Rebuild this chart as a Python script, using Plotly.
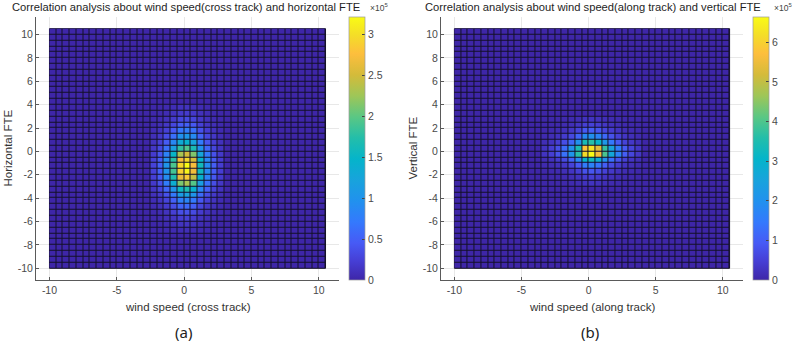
import numpy as np
import plotly.graph_objects as go

# ---- histogram bins shared by both panels (left edges -10 ... 10, width 0.5) ----
BIN_WIDTH = 0.5
BIN_EDGES = np.arange(-10, 10.5 + 1e-9, BIN_WIDTH)
N_BINS = len(BIN_EDGES) - 1

X_TICKS = [-10, -5, 0, 5, 10]
Y_TICKS = [-10, -8, -6, -4, -2, 0, 2, 4, 6, 8, 10]

# ---- (a) cross-track wind speed vs horizontal FTE, counts in units of 1e5 ----
# non-empty region; all other bins are empty
H_COLS = [-2.5, -2.0, -1.5, -1.0, -0.5, 0.0, 0.5, 1.0, 1.5, 2.0, 2.5]
H_ROWS = [3.5, 3.0, 2.5, 2.0, 1.5, 1.0, 0.5, 0.0, -0.5, -1.0, -1.5,
          -2.0, -2.5, -3.0, -3.5, -4.0, -4.5, -5.0, -5.5, -6.0, -6.5, -7.0]
H_COUNTS = [
    [0.01, 0.02, 0.04, 0.07, 0.11, 0.12, 0.10, 0.06, 0.03, 0.02, 0.01],
    [0.02, 0.03, 0.06, 0.12, 0.18, 0.20, 0.17, 0.10, 0.06, 0.03, 0.01],
    [0.03, 0.05, 0.10, 0.19, 0.29, 0.32, 0.27, 0.16, 0.09, 0.05, 0.02],
    [0.04, 0.08, 0.16, 0.30, 0.46, 0.50, 0.43, 0.25, 0.14, 0.08, 0.04],
    [0.06, 0.12, 0.24, 0.45, 0.69, 0.75, 0.64, 0.38, 0.21, 0.11, 0.05],
    [0.08, 0.17, 0.34, 0.63, 0.97, 1.05, 0.89, 0.53, 0.29, 0.16, 0.07],
    [0.12, 0.23, 0.46, 0.87, 1.33, 1.45, 1.23, 0.73, 0.41, 0.22, 0.10],
    [0.16, 0.31, 0.62, 1.17, 1.79, 1.95, 1.66, 0.98, 0.55, 0.29, 0.14],
    [0.20, 0.40, 0.80, 1.50, 2.30, 2.50, 2.13, 1.25, 0.70, 0.38, 0.18],
    [0.24, 0.47, 0.94, 1.77, 2.71, 2.95, 2.51, 1.48, 0.83, 0.44, 0.21],
    [0.26, 0.51, 1.02, 1.92, 2.94, 3.21, 2.72, 1.60, 0.90, 0.48, 0.22],
    [0.25, 0.50, 1.01, 1.89, 2.90, 3.15, 2.68, 1.58, 0.88, 0.47, 0.22],
    [0.23, 0.46, 0.91, 1.71, 2.62, 2.85, 2.42, 1.43, 0.80, 0.43, 0.20],
    [0.18, 0.37, 0.74, 1.38, 2.12, 2.30, 1.96, 1.15, 0.64, 0.35, 0.16],
    [0.14, 0.27, 0.54, 1.02, 1.56, 1.70, 1.45, 0.85, 0.48, 0.26, 0.12],
    [0.10, 0.19, 0.38, 0.72, 1.10, 1.20, 1.02, 0.60, 0.34, 0.18, 0.08],
    [0.07, 0.14, 0.27, 0.51, 0.78, 0.85, 0.72, 0.43, 0.24, 0.13, 0.06],
    [0.05, 0.09, 0.19, 0.35, 0.53, 0.58, 0.49, 0.29, 0.16, 0.09, 0.04],
    [0.03, 0.06, 0.12, 0.23, 0.35, 0.38, 0.32, 0.19, 0.11, 0.06, 0.03],
    [0.02, 0.04, 0.08, 0.14, 0.22, 0.24, 0.20, 0.12, 0.07, 0.04, 0.02],
    [0.01, 0.02, 0.04, 0.08, 0.13, 0.14, 0.12, 0.07, 0.04, 0.02, 0.01],
    [0.01, 0.01, 0.03, 0.05, 0.07, 0.08, 0.07, 0.04, 0.02, 0.01, 0.01],
]
H_CBAR_TICKS = [0, 0.5, 1, 1.5, 2, 2.5, 3]

# ---- (b) along-track wind speed vs vertical FTE, counts in units of 1e5 ----
V_COLS = [-3.5, -3.0, -2.5, -2.0, -1.5, -1.0, -0.5, 0.0, 0.5, 1.0, 1.5,
          2.0, 2.5, 3.0, 3.5]
V_ROWS = [2.5, 2.0, 1.5, 1.0, 0.5, 0.0, -0.5, -1.0, -1.5, -2.0, -2.5, -3.0]
V_COUNTS = [
    [0.01, 0.02, 0.03, 0.05, 0.08, 0.14, 0.24, 0.26, 0.22, 0.16, 0.10, 0.07, 0.04, 0.02, 0.01],
    [0.02, 0.04, 0.06, 0.11, 0.17, 0.29, 0.49, 0.53, 0.45, 0.32, 0.21, 0.13, 0.08, 0.05, 0.03],
    [0.04, 0.07, 0.12, 0.20, 0.32, 0.54, 0.92, 0.99, 0.84, 0.59, 0.40, 0.25, 0.15, 0.09, 0.05],
    [0.08, 0.14, 0.24, 0.40, 0.63, 1.09, 1.84, 1.98, 1.68, 1.19, 0.79, 0.50, 0.30, 0.18, 0.10],
    [0.15, 0.25, 0.44, 0.73, 1.16, 2.00, 3.38, 3.63, 3.09, 2.18, 1.45, 0.91, 0.54, 0.33, 0.18],
    [0.25, 0.44, 0.75, 1.25, 2.01, 3.45, 5.83, 6.27, 5.33, 3.76, 2.51, 1.57, 0.94, 0.56, 0.31],
    [0.26, 0.46, 0.79, 1.32, 2.11, 3.63, 6.14, 6.64, 5.61, 3.96, 2.64, 1.65, 0.99, 0.59, 0.33],
    [0.13, 0.23, 0.40, 0.66, 1.06, 1.82, 3.07, 3.30, 2.81, 1.98, 1.32, 0.83, 0.50, 0.30, 0.17],
    [0.07, 0.12, 0.20, 0.33, 0.53, 0.91, 1.53, 1.65, 1.40, 0.99, 0.66, 0.41, 0.25, 0.15, 0.08],
    [0.03, 0.06, 0.10, 0.17, 0.28, 0.47, 0.80, 0.86, 0.73, 0.52, 0.34, 0.22, 0.13, 0.08, 0.04],
    [0.02, 0.03, 0.06, 0.09, 0.15, 0.25, 0.43, 0.46, 0.39, 0.28, 0.18, 0.12, 0.07, 0.04, 0.02],
    [0.01, 0.02, 0.03, 0.05, 0.08, 0.14, 0.24, 0.26, 0.22, 0.16, 0.10, 0.07, 0.04, 0.02, 0.01],
]
V_CBAR_TICKS = [0, 1, 2, 3, 4, 5, 6]

PARULA = [
    [0.00, "rgb(62,38,168)"],
    [0.07, "rgb(70,62,212)"],
    [0.14, "rgb(71,90,245)"],
    [0.22, "rgb(52,121,253)"],
    [0.30, "rgb(33,145,238)"],
    [0.38, "rgb(24,163,220)"],
    [0.46, "rgb(5,180,202)"],
    [0.54, "rgb(35,190,170)"],
    [0.62, "rgb(90,199,132)"],
    [0.70, "rgb(158,198,88)"],
    [0.78, "rgb(212,187,58)"],
    [0.86, "rgb(253,190,61)"],
    [0.93, "rgb(244,221,40)"],
    [1.00, "rgb(249,251,21)"],
]


def bin_index(edge):
    return int(round((edge - BIN_EDGES[0]) / BIN_WIDTH))


def count_grid(cols, rows, counts):
    z = np.zeros((N_BINS, N_BINS))
    for r_edge, row in zip(rows, counts):
        for c_edge, val in zip(cols, row):
            z[bin_index(r_edge), bin_index(c_edge)] = val
    return z


def labels(vals):
    # plain ASCII hyphen for negatives
    return [f"{v:g}" for v in vals]


Z_H = count_grid(H_COLS, H_ROWS, H_COUNTS)
Z_V = count_grid(V_COLS, V_ROWS, V_COUNTS)

W, H = 793, 342
FONT = "Liberation Sans, Arial, Helvetica, sans-serif"
TICK_COLOR = "#4a4a4a"
AXIS_COLOR = "#5a5a5a"
GRID_COLOR = "#e8e8e8"
EDGE_COLOR = "rgb(20,16,40)"

# plot areas in pixels: (left, right, top, bottom)
PANELS = [(36, 339, 17, 280), (441, 743, 17, 280)]
CBARS = [349, 753]


def px_x(p):
    return p / W


def px_y(p):
    return 1 - p / H


fig = go.Figure()

for k, (z, ticks) in enumerate([(Z_H, H_CBAR_TICKS), (Z_V, V_CBAR_TICKS)]):
    sfx = "" if k == 0 else str(k + 1)
    top, bot = PANELS[k][2], PANELS[k][3]
    fig.add_trace(go.Heatmap(
        x=BIN_EDGES, y=BIN_EDGES, z=z,
        xaxis="x" + sfx, yaxis="y" + sfx,
        colorscale=PARULA, zmin=0, zmax=float(z.max()),
        xgap=1, ygap=1,
        colorbar=dict(
            x=px_x(CBARS[k]), xanchor="left",
            y=px_y((top + bot) / 2), yanchor="middle",
            len=bot - top, lenmode="pixels",
            thickness=16, thicknessmode="pixels",
            xpad=0, ypad=0,
            outlinecolor="#9a9a9a", outlinewidth=0.7,
            ticks="inside", ticklen=3, tickcolor="#444",
            tickvals=ticks, ticktext=labels(ticks),
            tickfont=dict(family=FONT, size=10.5, color=TICK_COLOR),
        ),
        hoverinfo="skip",
    ))
    # dark background behind the bins forms the cell edges
    fig.add_shape(
        type="rect", xref="x" + sfx, yref="y" + sfx,
        x0=BIN_EDGES[0], x1=BIN_EDGES[-1], y0=BIN_EDGES[0], y1=BIN_EDGES[-1],
        fillcolor=EDGE_COLOR, line=dict(color=EDGE_COLOR, width=1),
        layer="between",
    )

axis_common = dict(
    showline=True, linecolor=AXIS_COLOR, linewidth=1,
    mirror=False, ticks="inside", ticklen=3, tickcolor=AXIS_COLOR,
    showgrid=True, gridcolor=GRID_COLOR, gridwidth=1, zeroline=False,
    tickfont=dict(family=FONT, size=10.5, color=TICK_COLOR),
    range=[-11, 11.5],
)

layout_axes = {}
for k, (l, r, t, b) in enumerate(PANELS):
    sfx = "" if k == 0 else str(k + 1)
    layout_axes["xaxis" + sfx] = dict(
        axis_common, domain=[px_x(l), px_x(r)],
        anchor="y" + sfx, tickvals=X_TICKS, ticktext=labels(X_TICKS),
    )
    layout_axes["yaxis" + sfx] = dict(
        axis_common, domain=[px_y(b), px_y(t)],
        anchor="x" + sfx, tickvals=Y_TICKS, ticktext=labels(Y_TICKS),
    )

fig.update_layout(
    width=W, height=H,
    margin=dict(l=0, r=0, t=0, b=0),
    paper_bgcolor="white", plot_bgcolor="white",
    showlegend=False,
    **layout_axes,
)

TITLES = [
    "Correlation analysis about wind speed(cross track) and horizontal FTE",
    "Correlation analysis about wind speed(along track) and vertical FTE",
]
X_LABELS = ["wind speed (cross track)", "wind speed (along track)"]
Y_LABELS = ["Horizontal FTE", "Vertical FTE"]
PANEL_TAGS = ["(a)", "(b)"]

anns = []
for k, (l, r, t, b) in enumerate(PANELS):
    cx = (l + r) / 2
    anns.append(dict(text=TITLES[k], x=px_x(cx - 2 + 3 * k), y=px_y(7),
                     xref="paper", yref="paper", showarrow=False,
                     xanchor="center", yanchor="middle",
                     font=dict(family=FONT, size=11.2, color="#1e1e1e")))
    anns.append(dict(text=X_LABELS[k], x=px_x(cx), y=px_y(307),
                     xref="paper", yref="paper", showarrow=False,
                     xanchor="center", yanchor="middle",
                     font=dict(family=FONT, size=11.5, color="#333")))
    anns.append(dict(text=Y_LABELS[k], x=px_x(l - 29), y=px_y((t + b) / 2),
                     xref="paper", yref="paper", showarrow=False, textangle=-90,
                     xanchor="center", yanchor="middle",
                     font=dict(family=FONT, size=11.5, color="#333")))
    anns.append(dict(text=PANEL_TAGS[k], x=px_x(cx - 4 + 2 * k), y=px_y(332),
                     xref="paper", yref="paper", showarrow=False,
                     xanchor="center", yanchor="middle",
                     font=dict(family="Noto Sans, sans-serif", size=15, color="#222")))
    anns.append(dict(text="×10<sup>5</sup>", x=px_x(CBARS[k] + 19), y=px_y(7),
                     xref="paper", yref="paper", showarrow=False,
                     xanchor="left", yanchor="middle",
                     font=dict(family=FONT, size=8.5, color="#444")))

fig.update_layout(annotations=anns)

fig.write_html("out.html")
